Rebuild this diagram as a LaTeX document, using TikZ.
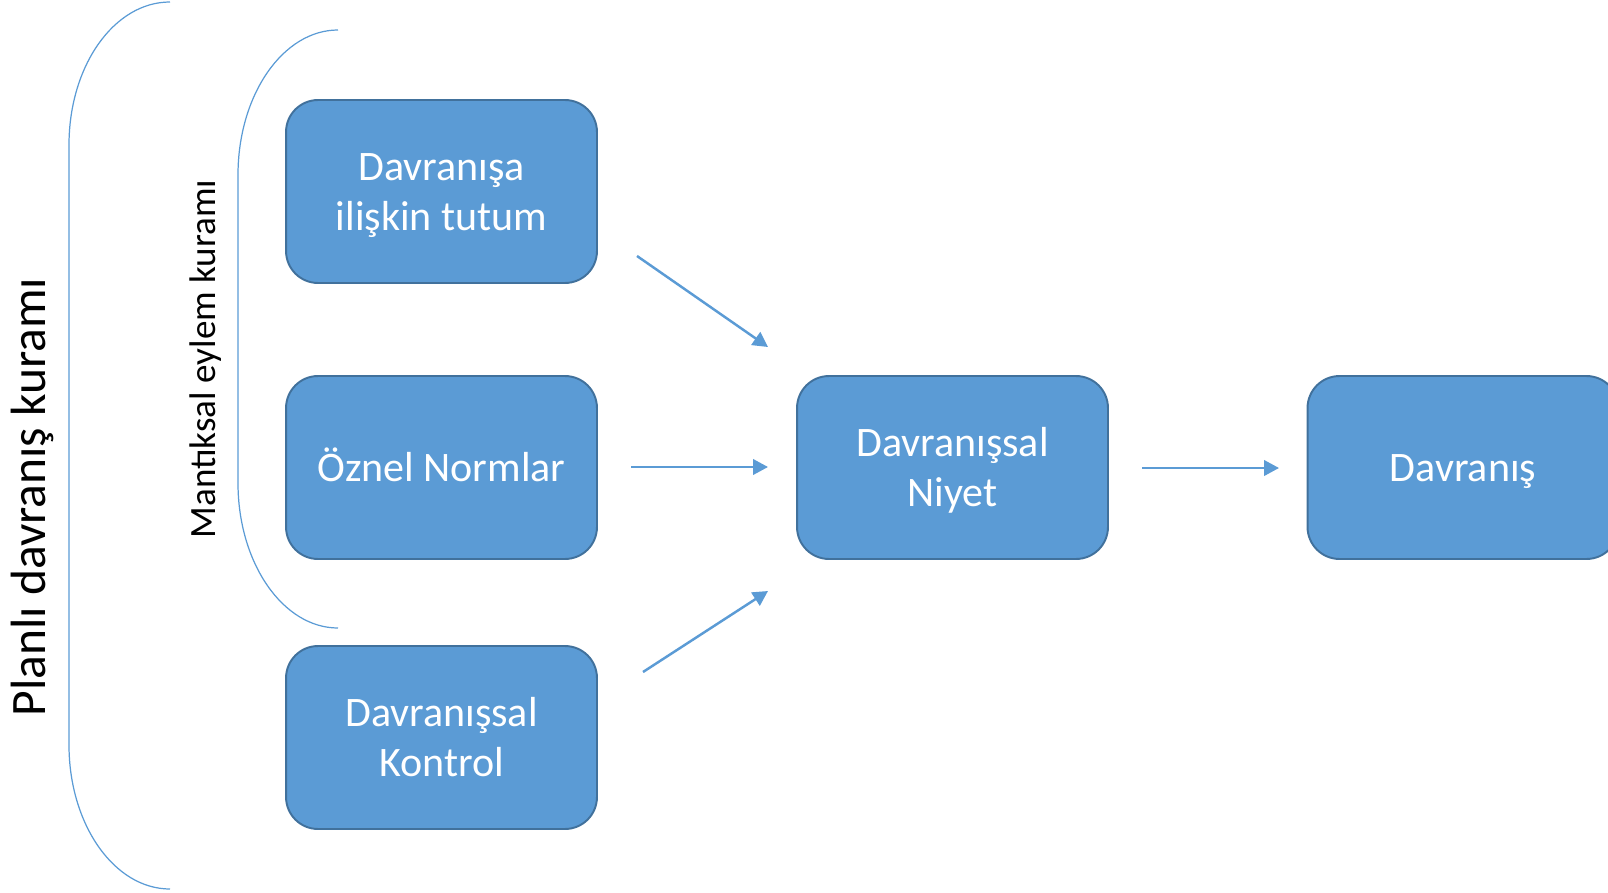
\documentclass[tikz,border=0pt]{standalone}
\usepackage{fontspec}
\setmainfont{Carlito}
\usepackage{xcolor}
\usepackage{tikz}
\usetikzlibrary{arrows.meta}
\definecolor{boxblue}{HTML}{5B9BD5}
\definecolor{boxedge}{HTML}{41719C}

\begin{document}
\begin{tikzpicture}[x=0.02cm,y=-0.02cm,
    box/.style={draw=boxedge,line width=1.1pt,fill=boxblue,rounded corners=0.64cm,
        minimum width=6.22cm,minimum height=3.66cm,align=center,text=white,
        font=\fontsize{23.9}{28.5}\selectfont,
        execute at begin node={\rule{0pt}{0.84cm}},
        execute at end node={\rule[-0.28cm]{0pt}{0.28cm}}},
    twoline/.style={box,execute at begin node={\rule{0pt}{1.84cm}}},
    arr/.style={draw=boxblue,line width=1.4pt,-{Triangle[length=0.3cm,width=0.31cm]}},
    brace/.style={draw=boxblue,line width=0.7pt}]
		\useasboundingbox (0,0) rectangle (1608,892);

		% boxes
		\node[twoline] (tutum) at (441.5,191.5) {Davranışa\\ilişkin tutum};
		\node[box] (norm) at (441.5,467.5) {Öznel Normlar};
		\node[twoline] (kontrol) at (441.5,737.5) {Davranışsal\\Kontrol};
		\node[twoline] (niyet) at (952.5,467.5) {Davranışsal\\Niyet};
		\node[box] (davranis) at (1463,467.5) {Davranış};

		% brackets
		\draw[brace] (170,2) .. controls (114,2) and (69,66) .. (69,145)
         -- (69,745) .. controls (69,824) and (114,889) .. (170,889);
		\draw[brace] (338,30) .. controls (283,30) and (238,95) .. (238,175)
         -- (238,483) .. controls (238,563) and (283,628) .. (338,628);

		\node[rotate=90,anchor=base,font=\fontsize{28.2}{34}\selectfont] (planli) at (45,497) {Planlı davranış kuramı};
		\node[rotate=90,anchor=base,font=\fontsize{21.1}{25}\selectfont] (mantiksal) at (215,359) {Mantıksal eylem kuramı};

		% arrows
		\coordinate (t1) at (637,256);
		\coordinate (h1) at (768,347);
		\coordinate (t2) at (631,467);
		\coordinate (h2) at (768,467);
		\coordinate (t3) at (643,672);
		\coordinate (h3) at (768,591);
		\coordinate (t4) at (1142,468);
		\coordinate (h4) at (1279,468);
		\draw[arr] (t1) -- (h1);
		\draw[arr] (t2) -- (h2);
		\draw[arr] (t3) -- (h3);
		\draw[arr] (t4) -- (h4);
\end{tikzpicture}
\end{document}
